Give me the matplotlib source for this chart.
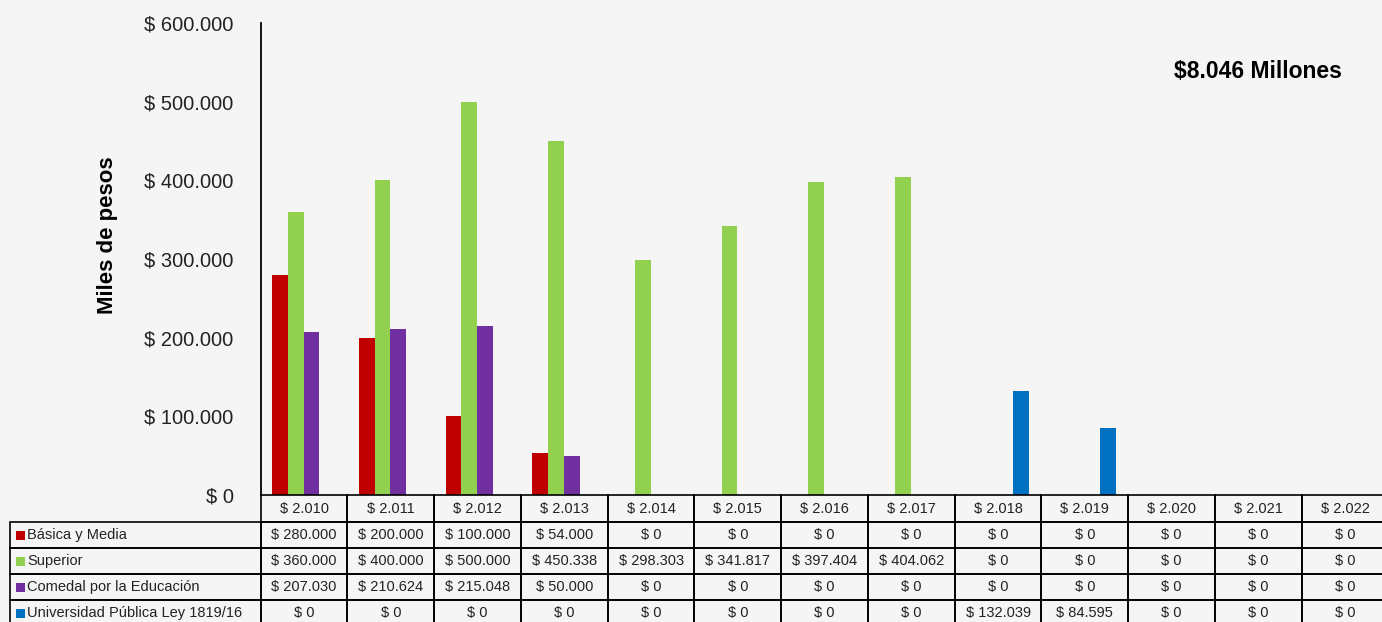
import matplotlib.pyplot as plt
from matplotlib.patches import Rectangle
from matplotlib.ticker import FuncFormatter

plt.rcParams['font.family'] = ['Liberation Sans', 'DejaVu Sans']

anios = ['2010', '2011', '2012', '2013', '2014', '2015', '2016', '2017',
         '2018', '2019', '2020', '2021', '2022']
series = ['Básica y Media', 'Superior', 'Comedal por la Educación',
          'Universidad Pública Ley 1819/16']
basica = [280000, 200000, 100000, 54000, 0, 0, 0, 0, 0, 0, 0, 0, 0]
superior = [360000, 400000, 500000, 450338, 298303, 341817, 397404, 404062,
            0, 0, 0, 0, 0]
comedal = [207030, 210624, 215048, 50000, 0, 0, 0, 0, 0, 0, 0, 0, 0]
universidad = [0, 0, 0, 0, 0, 0, 0, 0, 132039, 84595, 0, 0, 0]
colores = ['#C00000', '#92D050', '#7030A0', '#0070C0']
total = '$8.046 Millones'


def pesos(v):
    return '$ ' + f'{int(round(v)):,}'.replace(',', '.')


W, H = 1382, 622
colw = 86.75  # ancho de columna en px
fig = plt.figure(figsize=(W / 100, H / 100), dpi=100)
fig.patch.set_facecolor('#f5f5f5')
ax = fig.add_axes([260.7 / W, 1 - 495 / H, 13 * colw / W, 472 / H])
ax.set_facecolor('none')

valores = [basica, superior, comedal, universidad]
w = 0.181
n = len(anios)
for k, (vals, c) in enumerate(zip(valores, colores)):
    xs = [i + (k - 1.5) * w - 0.005 for i in range(n)]
    ax.bar(xs, vals, width=w, color=c, label=series[k])

ax.set_xlim(-0.5, n - 0.5)
ax.set_ylim(0, 600000)
ax.set_yticks(range(0, 600001, 100000))
ax.yaxis.set_major_formatter(FuncFormatter(lambda v, p: pesos(v)))
ax.tick_params(axis='y', length=0, pad=19.5, labelsize=14.5, labelcolor='#222222')
ax.set_xticks([])
for s in ['top', 'right', 'bottom']:
    ax.spines[s].set_visible(False)
ax.spines['left'].set_linewidth(1.3)
fig.text(108 / W, 1 - 235 / H, 'Miles de pesos', rotation=90, ha='center',
         va='center', fontsize=16, fontweight='bold')

ax.text((1342 - 260.7) / (13 * colw), 1 - (72 - 23) / 472, total,
        transform=ax.transAxes, ha='right', va='center',
        fontsize=16.5, fontweight='bold')

# tabla de datos bajo el gráfico
tr = ax.get_xaxis_transform()
px = 1 / 472
hdr_h = 27 * px
row_h = 26 * px
x0 = -0.5 - 250.7 / colw
lw = 1.2

# fila de encabezado (años)
for i, a in enumerate(anios):
    ax.add_patch(Rectangle((i - 0.5, -hdr_h), 1, hdr_h, transform=tr, fill=False,
                           lw=lw, ec='black', clip_on=False))
    ax.text(i, -hdr_h / 2, pesos(int(a)), transform=tr, ha='center', va='center',
            fontsize=10.5, color='#222222', clip_on=False)

for r, (nombre, vals, c) in enumerate(zip(series, valores, colores)):
    ytop = -hdr_h - r * row_h
    yb = ytop - row_h
    ax.add_patch(Rectangle((x0, yb), -0.5 - x0, row_h, transform=tr, fill=False,
                           lw=lw, ec='black', clip_on=False))
    ax.add_patch(Rectangle((x0 + 6 / colw, yb + 8.5 * px), 9 / colw, 9 * px,
                           transform=tr, color=c, lw=0, clip_on=False))
    ax.text(x0 + 17 / colw, yb + row_h / 2, nombre, transform=tr, ha='left',
            va='center', fontsize=10.5, color='#222222', clip_on=False)
    for i, v in enumerate(vals):
        ax.add_patch(Rectangle((i - 0.5, yb), 1, row_h, transform=tr, fill=False,
                               lw=lw, ec='black', clip_on=False))
        ax.text(i, yb + row_h / 2, pesos(v), transform=tr, ha='center',
                va='center', fontsize=10.5, color='#222222', clip_on=False)

fig.savefig('out.png', dpi=100, facecolor=fig.get_facecolor())
